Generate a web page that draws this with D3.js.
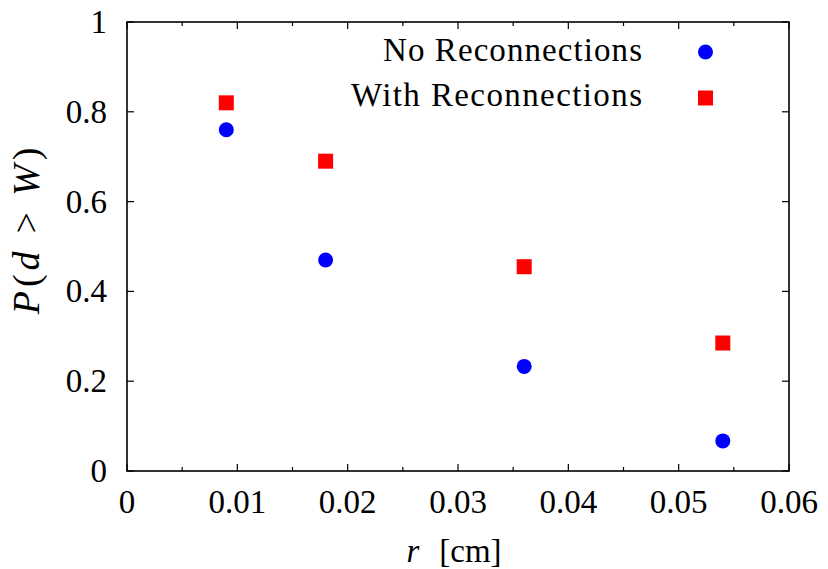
<!DOCTYPE html>
<html>
<head>
<meta charset="utf-8">
<script src="https://cdn.jsdelivr.net/npm/d3@7"></script>
<style>
  html, body { margin: 0; padding: 0; background: #fff; }
  svg { display: block; }
  text { font-family: "Liberation Serif", "DejaVu Serif", serif; fill: #000; }
</style>
</head>
<body>
<svg id="chart" width="828" height="569"></svg>
<script>
const rValues = [0.009, 0.018, 0.036, 0.054];
const noReconnections = [0.76, 0.47, 0.233, 0.067];
const withReconnections = [0.82, 0.69, 0.455, 0.285];
const seriesNames = ["No Reconnections", "With Reconnections"];
const xTicks = [0, 0.01, 0.02, 0.03, 0.04, 0.05, 0.06];
const xMinorTicks = [0.005, 0.015, 0.025, 0.035, 0.045, 0.055];
const yTicks = [0, 0.2, 0.4, 0.6, 0.8, 1];

const svg = d3.select("#chart");
const m = { left: 127, right: 789, top: 22, bottom: 471 };
const x = d3.scaleLinear().domain([0, 0.06]).range([m.left, m.right]);
const y = d3.scaleLinear().domain([0, 1]).range([m.bottom, m.top]);
const fs = 33;
const major = 7, minor = 4;

// frame
svg.append("rect").attr("x", m.left).attr("y", m.top)
  .attr("width", m.right - m.left).attr("height", m.bottom - m.top)
  .attr("fill", "none").attr("stroke", "#000").attr("stroke-width", 1.6);

const g = svg.append("g").attr("stroke", "#000").attr("stroke-width", 1.2);
xTicks.forEach(t => {
  g.append("line").attr("x1", x(t)).attr("x2", x(t)).attr("y1", m.bottom).attr("y2", m.bottom - major);
  g.append("line").attr("x1", x(t)).attr("x2", x(t)).attr("y1", m.top).attr("y2", m.top + major);
});
xMinorTicks.forEach(t => {
  g.append("line").attr("x1", x(t)).attr("x2", x(t)).attr("y1", m.bottom).attr("y2", m.bottom - minor);
  g.append("line").attr("x1", x(t)).attr("x2", x(t)).attr("y1", m.top).attr("y2", m.top + minor);
});
yTicks.forEach(t => {
  g.append("line").attr("x1", m.left).attr("x2", m.left + major).attr("y1", y(t)).attr("y2", y(t));
  g.append("line").attr("x1", m.right).attr("x2", m.right - major).attr("y1", y(t)).attr("y2", y(t));
});

// tick labels
svg.append("g").selectAll("text").data(xTicks).join("text")
  .attr("x", d => x(d)).attr("y", 513).attr("text-anchor", "middle")
  .attr("font-size", fs).text(d => d3.format("")(d));
svg.append("g").selectAll("text").data(yTicks).join("text")
  .attr("x", 107).attr("y", d => y(d) + 11).attr("text-anchor", "end")
  .attr("font-size", fs).text(d => d3.format("")(d));

// axis labels
const xl = svg.append("text").attr("x", 454).attr("y", 562).attr("text-anchor", "middle").attr("font-size", fs);
xl.append("tspan").attr("font-style", "italic").text("r");
xl.append("tspan").attr("dx", 20).text("[cm]");

const yl = svg.append("text").attr("transform", "translate(39,229) rotate(-90)")
  .attr("text-anchor", "middle").attr("font-size", 38).attr("letter-spacing", 4);
yl.append("tspan").attr("font-style", "italic").text("P");
yl.append("tspan").text("(");
yl.append("tspan").attr("font-style", "italic").text("d");
yl.append("tspan").attr("dx", 14).text(">");
yl.append("tspan").attr("dx", 12).attr("font-style", "italic").text("W");
yl.append("tspan").text(")");

// data points
const sq = 15;
svg.append("g").selectAll("circle").data(rValues.map((r, i) => [r, noReconnections[i]])).join("circle")
  .attr("cx", d => x(d[0])).attr("cy", d => y(d[1])).attr("r", 7.5).attr("fill", "#0000ff");
svg.append("g").selectAll("rect").data(rValues.map((r, i) => [r, withReconnections[i]])).join("rect")
  .attr("x", d => x(d[0]) - sq / 2).attr("y", d => y(d[1]) - sq / 2)
  .attr("width", sq).attr("height", sq).attr("fill", "#ff0000");

// legend
const leg = svg.append("g");
leg.append("text").attr("x", 383).attr("y", 61).attr("font-size", fs)
  .attr("textLength", 259).attr("lengthAdjust", "spacing").text(seriesNames[0]);
leg.append("text").attr("x", 351).attr("y", 106).attr("font-size", fs)
  .attr("textLength", 291).attr("lengthAdjust", "spacing").text(seriesNames[1]);
leg.append("circle").attr("cx", 705.5).attr("cy", 52).attr("r", 7.5).attr("fill", "#0000ff");
leg.append("rect").attr("x", 705.5 - sq / 2).attr("y", 98 - sq / 2).attr("width", sq).attr("height", sq).attr("fill", "#ff0000");
</script>
</body>
</html>
